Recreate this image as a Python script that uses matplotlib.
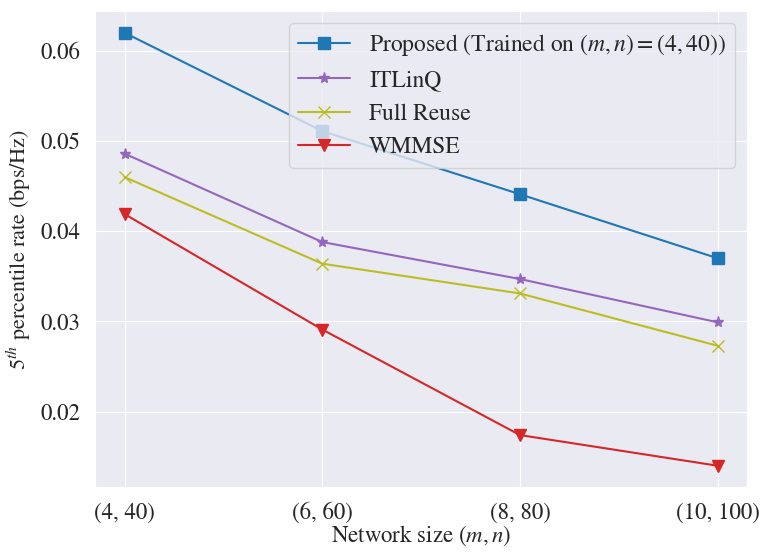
import matplotlib
matplotlib.use('Agg')
import matplotlib.pyplot as plt
import seaborn as sns

sns.set_style('darkgrid')
plt.rcParams['font.family'] = ['STIXGeneral', 'DejaVu Serif']
plt.rcParams['mathtext.fontset'] = 'stix'

sizes = ['(4, 40)', '(6, 60)', '(8, 80)', '(10, 100)']
proposed = [0.0620, 0.0511, 0.0441, 0.0370]
itlinq = [0.0486, 0.0388, 0.0347, 0.0299]
full_reuse = [0.0460, 0.0364, 0.0331, 0.0273]
wmmse = [0.0419, 0.0291, 0.0174, 0.0140]

fig, ax = plt.subplots(figsize=(7.72, 5.57), dpi=100)
x = range(len(sizes))
ax.plot(x, proposed, marker='s', color='tab:blue', markersize=8,
        label='Proposed (Trained on $(m,n)=(4,40)$)')
ax.plot(x, itlinq, marker='*', color='tab:purple', markersize=8, label='ITLinQ')
ax.plot(x, full_reuse, marker='x', color='tab:olive', markersize=8, label='Full Reuse')
ax.plot(x, wmmse, marker='v', color='tab:red', markersize=8, label='WMMSE')

ax.set_xticks(list(x))
ax.set_xticklabels(sizes)
ax.set_yticks([0.02, 0.03, 0.04, 0.05, 0.06])
ax.tick_params(labelsize=16.5, pad=7)
ax.set_xlabel('Network size $(m,n)$', fontsize=16.5, labelpad=0)
ax.set_ylabel('$5^{th}$ percentile rate (bps/Hz)', fontsize=16, labelpad=5)
ax.legend(loc='upper right', fontsize=17, handlelength=2.2)

plt.subplots_adjust(left=0.123, right=0.968, top=0.98, bottom=0.125)
plt.savefig('out.png')
